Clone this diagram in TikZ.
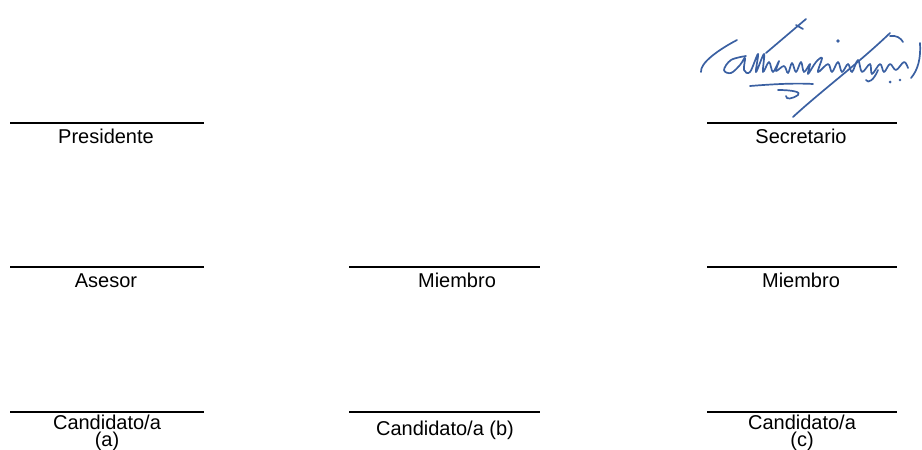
\documentclass[tikz,border=0pt]{standalone}
\usepackage{fontspec}
\setmainfont{Liberation Sans}
\usetikzlibrary{positioning}
\definecolor{tinta}{RGB}{58,96,162}

\begin{document}
\begin{tikzpicture}[x=0.5pt,y=-0.5pt,
  raya/.style={line width=0.8pt},
  rotulo/.style={anchor=base,inner sep=0pt,align=center,font=\fontsize{10}{8.5}\selectfont},
  firma/.style={draw=tinta,line width=0.85pt,line cap=round,line join=round}]
  \useasboundingbox (0,0) rectangle (922,450);

  \coordinate (A1) at (10,123);  \coordinate (B1) at (204,123);
  \coordinate (E1) at (707,123); \coordinate (F1) at (897,123);
  \coordinate (A2) at (10,267);  \coordinate (B2) at (204,267);
  \coordinate (C2) at (349,267); \coordinate (D2) at (540,267);
  \coordinate (E2) at (707,267); \coordinate (F2) at (897,267);
  \coordinate (A3) at (10,412);  \coordinate (B3) at (204,412);
  \coordinate (C3) at (349,412); \coordinate (D3) at (540,412);
  \coordinate (E3) at (707,412); \coordinate (F3) at (897,412);

  \draw[raya] (A1) -- (B1);
  \draw[raya] (E1) -- (F1);
  \draw[raya] (A2) -- (B2);
  \draw[raya] (C2) -- (D2);
  \draw[raya] (E2) -- (F2);
  \draw[raya] (A3) -- (B3);
  \draw[raya] (C3) -- (D3);
  \draw[raya] (E3) -- (F3);

  \node[rotulo] (pres)  at (106,143) {Presidente};
  \node[rotulo] (secr)  at (801,143) {Secretario};
  \node[rotulo] (ases)  at (106,287) {Asesor};
  \node[rotulo] (miemb) at (457,287) {Miembro};
  \node[rotulo] (miemc) at (801,287) {Miembro};
  \node[rotulo] (canda) at (107,446) {Candidato/a\\(a)};
  \node[rotulo] (candb) at (445,435) {Candidato/a (b)};
  \node[rotulo] (candc) at (802,446) {Candidato/a\\(c)};

  % firma del secretario
  \draw[firma] (737,40) .. controls (718,50) and (700,63) .. (701,72);
  \draw[firma] plot[smooth,tension=0.6] coordinates {(746,56) (731,60) (724,70) (731,73) (740,65) (745,58)
    (744,70) (750,72) (758,54) (756,72) (764,54) (763,72) (769,62) (773,72) (779,61) (776,71)
    (784,66) (788,73) (792,63) (796,72) (801,62) (804,72) (810,64) (808,74) (816,62) (822,58)
    (818,72) (828,64) (832,72) (838,62) (842,72) (848,64) (852,72) (858,60) (862,72) (870,64)
    (872,74) (880,64) (884,72) (890,64) (896,70) (904,62) (908,68)};
  \draw[firma] (806,19) -- (766,53);
  \draw[firma] (796,25) -- (803,29);
  \draw[firma] (890,33) .. controls (860,62) and (820,92) .. (793,117);
  \draw[firma] (750,86) .. controls (775,84) and (795,83) .. (813,84);
  \draw[firma] (778,90) .. controls (792,90) and (802,92) .. (798,95) .. controls (792,99) and (786,100) .. (786,96);
  \draw[firma] (890,36) .. controls (896,35) and (901,38) .. (903,42);
  \draw[firma] (920,43) .. controls (921,58) and (918,70) .. (911,78);
  \draw[firma] (878,70) .. controls (874,80) and (868,84) .. (866,80);
  \fill[tinta] (838,41) circle (1.8);
  \fill[tinta] (890,82) circle (1.5);
  \fill[tinta] (900,80) circle (1.3);
\end{tikzpicture}
\end{document}
